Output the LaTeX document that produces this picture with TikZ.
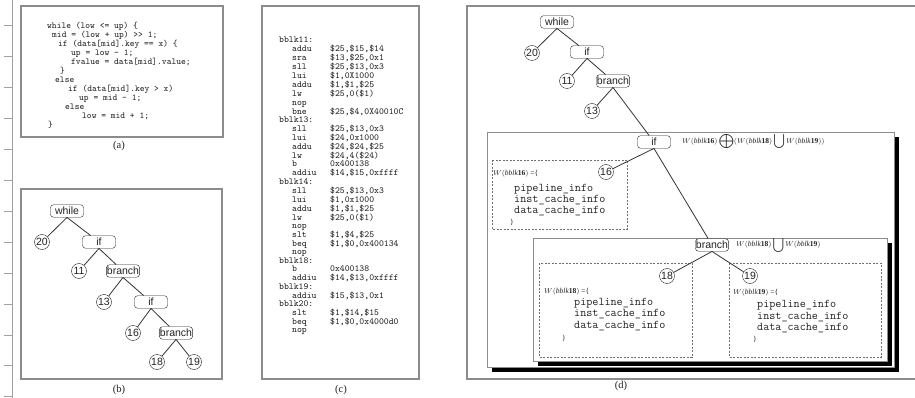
\documentclass[tikz,border=0pt]{standalone}
\usepackage{fontspec}
\setmainfont{Liberation Serif}
\setsansfont{Liberation Sans}

\definecolor{frame}{HTML}{8C8C8C}
\definecolor{axisgray}{HTML}{A0A0A0}
\definecolor{ink}{HTML}{222222}
\definecolor{edge}{HTML}{333333}

\newcommand\wset[1]{W(\mathit{bblk}\mathbf{#1})}

\tikzset{
  panel/.style={draw=frame, line width=1.3pt},
  rnode/.style={draw=ink, rounded corners=3pt, fill=white, text=ink,
    font=\sffamily\fontsize{10.5}{11}\selectfont,
    minimum width=33pt, minimum height=12.5pt, inner sep=0.5pt},
  cnode/.style={draw=ink, circle, fill=white, text=ink,
    font=\sffamily\fontsize{10.5}{11}\selectfont,
    minimum size=15pt, inner sep=0pt},
  tedge/.style={draw=edge, line width=0.8pt},
  caption/.style={font=\fontsize{10.5}{12}\selectfont, text=ink, inner sep=0pt},
  dbox/.style={draw=frame!80!black, dash pattern=on 2pt off 1.5pt, line width=0.8pt},
  sbox/.style={draw=frame, fill=white, line width=0.9pt},
  shade/.style={fill=black},
  wlabel/.style={font=\fontsize{7.5}{9}\selectfont, text=ink, inner sep=0pt},
  infotext/.style={font=\ttfamily\fontsize{11.8}{12}\selectfont, text=ink, inner sep=0pt},
  srccode/.style={font=\ttfamily\fontsize{9.1}{8.9}\selectfont, text=ink, inner sep=0pt},
  asmcode/.style={font=\ttfamily\fontsize{9.3}{8.4}\selectfont, text=ink, inner sep=0pt},
}

\begin{document}
\begin{tikzpicture}[x=1pt, y=-1pt]
\useasboundingbox[fill=white] (0,0) rectangle (915,398);

% ruler on the left margin
\draw[axisgray, line width=1pt] (12,0) -- (12,398);
\foreach \k in {0,...,12}
  \draw[axisgray, line width=1pt] (4,{26+30.9*\k}) -- (12,{26+30.9*\k});

% ---------- panel frames ----------
\draw[panel] (21,6) rectangle (223,137);
\draw[panel] (21,189) rectangle (222,379);
\draw[panel] (262,6) rectangle (419,379);
\draw[panel] (467,6) rectangle (920,379);

\node[caption] (capa) at (119,146) {(a)};
\node[caption] (capb) at (119,390) {(b)};
\node[caption] (capc) at (341,390) {(c)};
\node[caption] (capd) at (621,386) {(d)};

% ---------- (a) source code ----------
\node[srccode, anchor=base west] (src) at (47,29) {%
\begin{tabular}[t]{@{}l@{}}
while (low <= up) \{\\
\hspace*{5pt}mid = (low + up) >{}> 1;\\
\hspace*{11pt}if (data[mid].key == x) \{\\
\hspace*{24pt}up = low - 1;\\
\hspace*{24pt}fvalue = data[mid].value;\\
\hspace*{13pt}\}\\
\hspace*{8pt}else\\
\hspace*{21pt}if (data[mid].key > x)\\
\hspace*{32pt}up = mid - 1;\\
\hspace*{18pt}else\\
\hspace*{35pt}low = mid + 1;\\
\hspace*{1pt}\}
\end{tabular}};

% ---------- (b) syntax tree ----------
\node[rnode] (bwhile) at (67,211) {while};
\node[cnode] (b20) at (42,242) {20};
\node[rnode] (bif1) at (99,242) {if};
\node[cnode] (b11) at (79,271) {11};
\node[rnode] (bbr1) at (123,271) {branch};
\node[cnode] (b13) at (104,302) {13};
\node[rnode] (bif2) at (151,302) {if};
\node[cnode] (b16) at (133,333) {16};
\node[rnode] (bbr2) at (176,333) {branch};
\node[cnode] (b18) at (157,362) {18};
\node[cnode] (b19) at (194,362) {19};

\draw[tedge] (bwhile.south) -- (b20);
\draw[tedge] (bwhile.south) -- (bif1);
\draw[tedge] (bif1.south) -- (b11);
\draw[tedge] (bif1.south) -- (bbr1);
\draw[tedge] (bbr1.south) -- (b13);
\draw[tedge] (bbr1.south) -- (bif2);
\draw[tedge] (bif2.south) -- (b16);
\draw[tedge] (bif2.south) -- (bbr2);
\draw[tedge] (bbr2.south) -- (b18);
\draw[tedge] (bbr2.south) -- (b19);

% ---------- (c) assembly ----------
\node[asmcode, anchor=base west] (asm) at (279,43) {%
\begin{tabular}[t]{@{}p{13pt}@{}p{38pt}@{}l@{}}
\multicolumn{3}{@{}l@{}}{bblk11:}\\
& addu & \$25,\$15,\$14\\
& sra  & \$13,\$25,0x1\\
& sll  & \$25,\$13,0x3\\
& lui  & \$1,0X1000\\
& addu & \$1,\$1,\$25\\
& lw   & \$25,0(\$1)\\
& nop  & \\
& bne  & \$25,\$4,0X40010C\\
\multicolumn{3}{@{}l@{}}{bblk13:}\\
& sll  & \$25,\$13,0x3\\
& lui  & \$24,0x1000\\
& addu & \$24,\$24,\$25\\
& lw   & \$24,4(\$24)\\
& b    & 0x400138\\
& addiu & \$14,\$15,0xffff\\
\multicolumn{3}{@{}l@{}}{bblk14:}\\
& sll  & \$25,\$13,0x3\\
& lui  & \$1,0x1000\\
& addu & \$1,\$1,\$25\\
& lw   & \$25,0(\$1)\\
& nop  & \\
& slt  & \$1,\$4,\$25\\
& beq  & \$1,\$0,0x400134\\
& nop  & \\
\multicolumn{3}{@{}l@{}}{bblk18:}\\
& b    & 0x400138\\
& addiu & \$14,\$13,0xffff\\
\multicolumn{3}{@{}l@{}}{bblk19:}\\
& addiu & \$15,\$13,0x1\\
\multicolumn{3}{@{}l@{}}{bblk20:}\\
& slt  & \$1,\$14,\$15\\
& beq  & \$1,\$0,0x4000d0\\
& nop  &
\end{tabular}};

% ---------- (d) annotated tree ----------
% nested regions with drop shadows
\fill[shade] (492,137) rectangle (899,372);
\draw[sbox] (487,132) rectangle (894,367);
\fill[shade] (538,243) rectangle (892,366);
\draw[sbox] (533,238) rectangle (887,361);

% dashed per-block regions
\draw[dbox] (492,160) rectangle (627,229);
\draw[dbox] (539,263) rectangle (692,357);
\draw[dbox] (729,263) rectangle (881,357);

\node[rnode] (dwhile) at (557,22) {while};
\node[cnode] (d20) at (532,53) {20};
\node[rnode] (dif1) at (587,52) {if};
\node[cnode] (d11) at (567,81) {11};
\node[rnode] (dbr1) at (613,81) {branch};
\node[cnode] (d13) at (592,111) {13};
\node[rnode] (dif2) at (654,142) {if};
\node[cnode] (d16) at (606,172) {16};
\node[rnode] (dbr2) at (712,245) {branch};
\node[cnode] (d18) at (667,276) {18};
\node[cnode] (d19) at (750,276) {19};

\draw[tedge] (dwhile.south) -- (d20);
\draw[tedge] (dwhile.south) -- (dif1);
\draw[tedge] (dif1.south) -- (d11);
\draw[tedge] (dif1.south) -- (dbr1);
\draw[tedge] (dbr1.south) -- (d13);
\draw[tedge] (dbr1.south) -- (dif2);
\draw[tedge] (dif2.south) -- (d16);
\draw[tedge] (dif2.south) -- (dbr2);
\draw[tedge] (dbr2.south) -- (d18);
\draw[tedge] (dbr2.south) -- (d19);

% region formulas
\node[wlabel, anchor=west] (wif) at (682,142)
  {$\wset{16}\displaystyle\bigoplus(\wset{18}\bigcup\wset{19})$};
\node[wlabel, anchor=west] (wbr) at (736,245)
  {$\wset{18}\displaystyle\bigcup\wset{19}$};

% block 16 contents
\node[wlabel, anchor=west] (w16) at (493,174) {$\wset{16}$ =\{};
\node[infotext, anchor=base west] (p16) at (514,192) {pipeline\_info};
\node[infotext, anchor=base west] (i16) at (514,203) {inst\_cache\_info};
\node[infotext, anchor=base west] (c16) at (514,214) {data\_cache\_info};
\node[wlabel] (e16) at (512,222) {\}};

% block 18 contents
\node[wlabel, anchor=west] (w18) at (544,292) {$\wset{18}$ =\{};
\node[infotext, anchor=base west] (p18) at (574,305) {pipeline\_info};
\node[infotext, anchor=base west] (i18) at (574,316.5) {inst\_cache\_info};
\node[infotext, anchor=base west] (c18) at (574,328) {data\_cache\_info};
\node[wlabel] (e18) at (564,338.5) {\}};

% block 19 contents
\node[wlabel, anchor=west] (w19) at (733,293) {$\wset{19}$ =\{};
\node[infotext, anchor=base west] (p19) at (757,307.5) {pipeline\_info};
\node[infotext, anchor=base west] (i19) at (757,319) {inst\_cache\_info};
\node[infotext, anchor=base west] (c19) at (757,330.5) {data\_cache\_info};
\node[wlabel] (e19) at (755,339) {\}};
\end{tikzpicture}
\end{document}
